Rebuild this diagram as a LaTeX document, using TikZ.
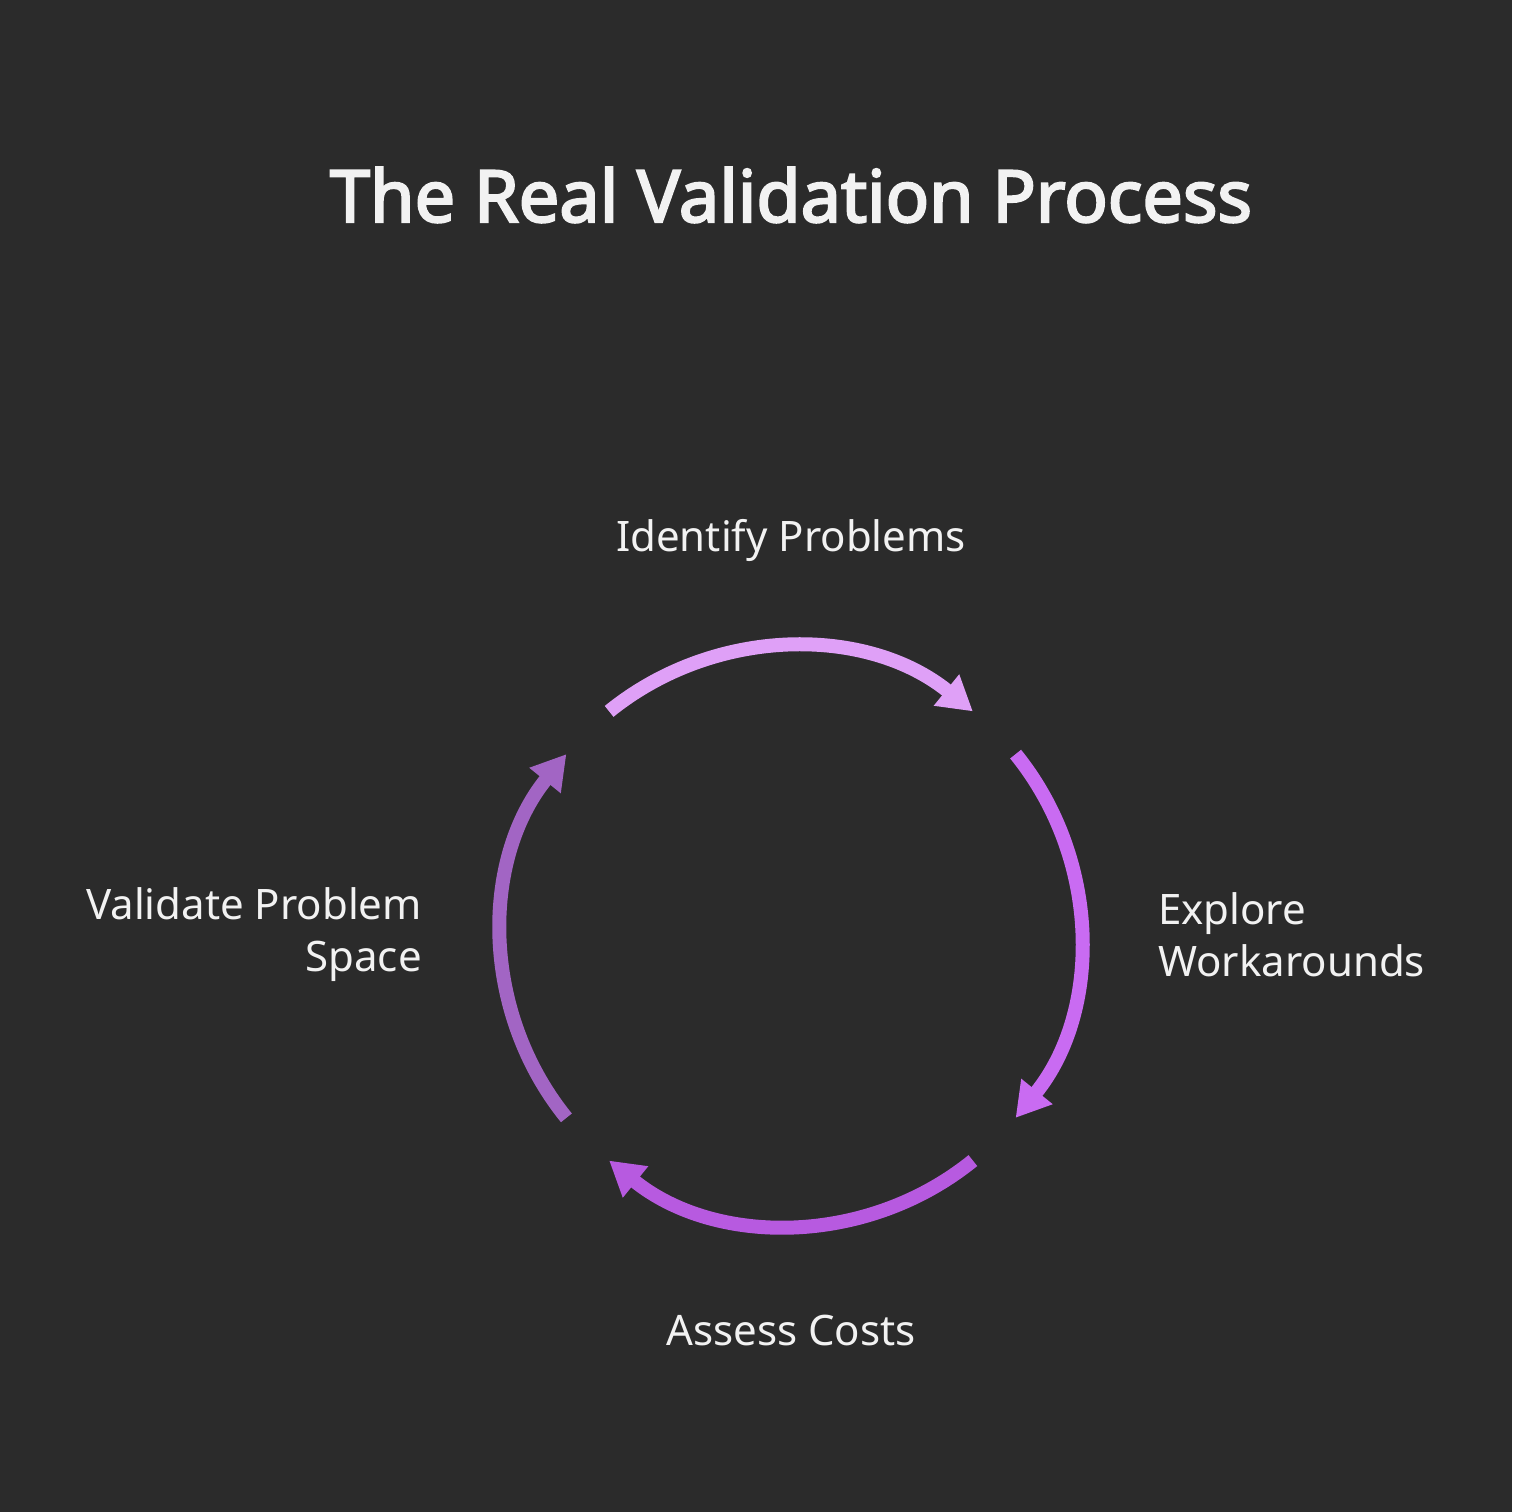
\documentclass[tikz,border=0pt]{standalone}
\usepackage{fontspec}
\setmainfont{Noto Sans}
\newfontfamily\titlefont[FakeBold=3]{Noto Sans}
\usetikzlibrary{arrows.meta}
\definecolor{bg}{HTML}{2B2B2B}
\definecolor{ctop}{HTML}{DFA0F7}
\definecolor{cright}{HTML}{C96BF2}
\definecolor{cbot}{HTML}{B75AE0}
\definecolor{cleft}{HTML}{A265C4}
\definecolor{txt}{HTML}{F2F2F2}
\tikzset{
 cyc/.style={line width=14pt,-{Triangle[length=34pt,width=38pt]}},
 lbl/.style={text=txt,font=\fontsize{42}{52}\selectfont,inner sep=0pt}
}
\begin{document}
\begin{tikzpicture}[x=1pt,y=1pt]
\fill[bg] (0,0) rectangle (1512,1512);
\useasboundingbox (0,0) rectangle (1512,1512);
\coordinate (c) at (791,576);
\node[text=txt,font=\titlefont\fontsize{72}{84}\selectfont,inner sep=0pt] (title) at (791,1317) {The Real Validation Process};
\draw[cyc,ctop] (c) ++(129:289) arc[start angle=129,end angle=51,radius=289];
\draw[cyc,cright] (c) ++(39:289) arc[start angle=39,end angle=-39,radius=289];
\draw[cyc,cbot] (c) ++(-51:289) arc[start angle=-51,end angle=-129,radius=289];
\draw[cyc,cleft] (c) ++(-141:289) arc[start angle=-141,end angle=-219,radius=289];
\node[lbl] (n1) at (791,972) {Identify Problems};
\node[lbl,anchor=west,align=left] (n2) at (1158,577) {Explore\\Workarounds};
\node[lbl] (n3) at (791,181) {Assess Costs};
\node[lbl,anchor=east,align=right] (n4) at (422,577) {Validate Problem\\Space};
\end{tikzpicture}
\end{document}
